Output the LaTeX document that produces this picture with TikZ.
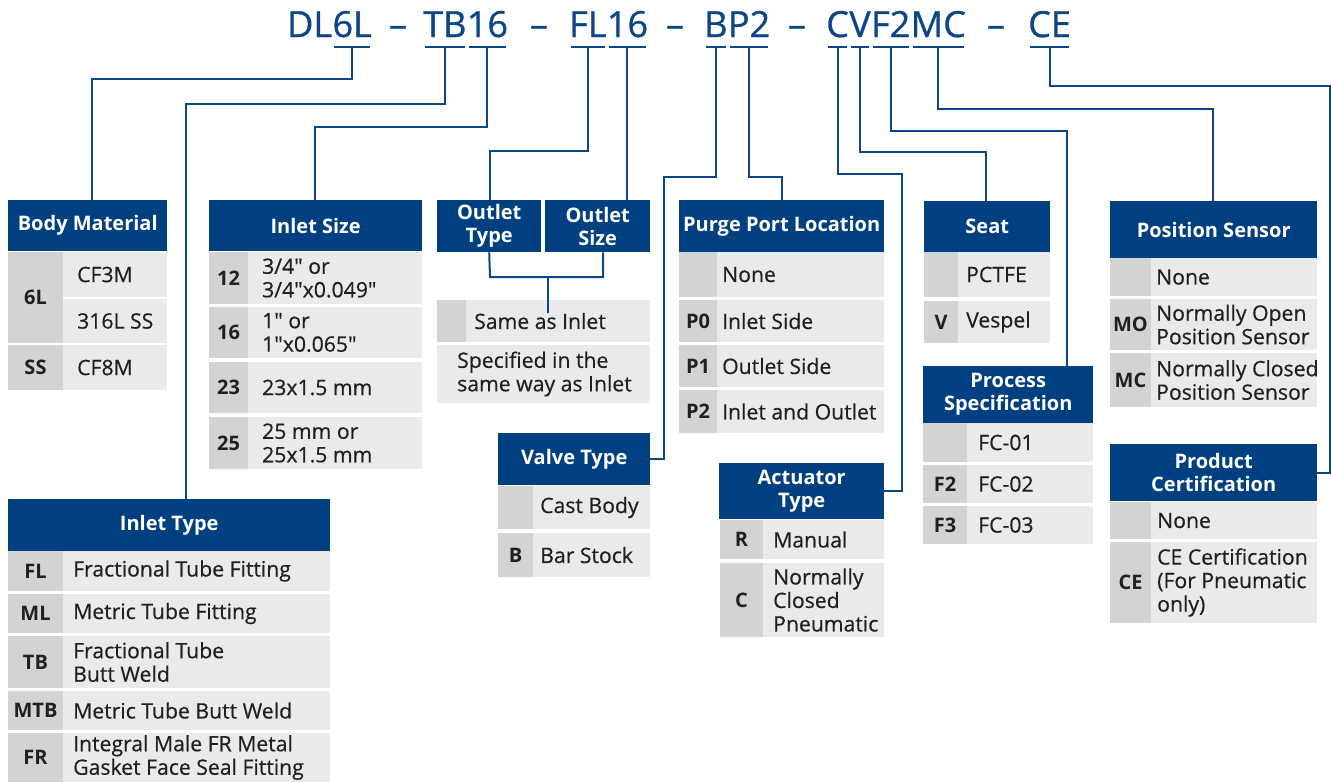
\documentclass[tikz,border=0pt]{standalone}
\usepackage{fontspec}
\setmainfont{Open Sans}
\newfontfamily\valfam{Open Sans}[FakeBold=0.5]
\newfontfamily\codefam{Open Sans}[FakeBold=0.9]
\usepackage{tikz}

\definecolor{hdblue}{RGB}{0,64,128}
\definecolor{lnblue}{RGB}{12,70,136}
\definecolor{keygray}{RGB}{209,211,212}
\definecolor{valgray}{RGB}{233,234,236}
\definecolor{txtdark}{RGB}{35,31,32}

\newcommand{\rowfont}{\valfam\fontsize{21.2}{23.5}\selectfont}
\newcommand{\keyfont}{\fontsize{20}{22}\selectfont\bfseries}
\newcommand{\headfont}{\fontsize{20}{23}\selectfont\bfseries}
\newcommand{\codefont}{\codefam\fontsize{36}{40}\selectfont}
\newcommand{\qq}{\textquotedbl}

% one option row: name, left, split, right, top, bottom, inset, key, text
\newcommand{\optrow}[9]{%
  \fill[keygray] (#2,#5) rectangle (#3,#6);
  \fill[valgray] (#3,#5) rectangle (#4,#6);
  \node[keytext] (#1k) at ({(#2+#3)/2},{(#5+#6)/2}) {#8};
  \node[valtext] (#1) at ({#3+#7},{(#5+#6)/2}) {#9};}

\tikzset{
  head/.style={fill=hdblue, text=white, font=\headfont, align=center,
    inner sep=0pt, anchor=north west},
  keytext/.style={text=txtdark, font=\keyfont, inner sep=0pt},
  valtext/.style={text=txtdark, font=\rowfont, align=left, inner sep=0pt, anchor=west},
  code/.style={text=lnblue, font=\codefont, inner sep=0pt, anchor=base west},
  uline/.style={draw=lnblue, line width=2.5pt},
  link/.style={draw=lnblue, line width=2pt}
}

\begin{document}
\begin{tikzpicture}[x=1pt,y=-1pt]
    \useasboundingbox (0,0) rectangle (1332,782);

    % part number
    \node[code] (tDL) at (287,37) {DL};
    \node[code] (t6L) at (tDL.base east) {6L};
    \node[code] (tTB) at (423,37) {TB};
    \node[code] (t16a) at (tTB.base east) {16};
    \node[code] (tFL) at (569,37) {FL};
    \node[code] (t16b) at (tFL.base east) {16};
    \node[code] (tB) at (704,37) {B};
    \node[code] (tP2) at (tB.base east) {P2};
    \node[code] (tC) at (826,37) {C};
    \node[code] (tV) at (tC.base east) {V};
    \node[code] (tF2) at (tV.base east) {F2};
    \node[code] (tMC) at (tF2.base east) {MC};
    \node[code] (tCE) at (1028,37) {CE};
    \foreach \x/\n in {398/1,539/2,675/3,797/4,996/5}
      \node[code, anchor=base] (dash\n) at (\x,37) {–};
    \foreach \n in {t6L,tTB,t16a,tFL,t16b,tB,tP2,tC,tV,tF2,tMC,tCE} {
      \draw[uline] ([xshift=2pt,yshift=-10pt]\n.base west) -- ([xshift=-2pt,yshift=-10pt]\n.base east);
      \coordinate (k\n) at ([yshift=-10pt]\n.base);
    }

    % Body Material
    \node[head, minimum width=159pt, minimum height=51pt] (bm) at (8,200) {Body Material};
    \fill[keygray] (8,252) rectangle (63,343);
    \fill[valgray] (63,252) rectangle (167,297);
    \fill[valgray] (63,299) rectangle (167,343);
    \node[keytext] (bm1k) at (35.5,297.5) {6L};
    \node[valtext] (bm1) at (77,274.5) {CF3M};
    \node[valtext] (bm2) at (77,321) {316L SS};
    \optrow{bm3}{8}{63}{167}{345}{390}{14}{SS}{CF8M}

    % Inlet Size
    \node[head, minimum width=213pt, minimum height=51pt] (is) at (209,200) {Inlet Size};
    \optrow{is1}{209}{248}{422}{252}{304}{14}{12}{3/4\qq{} or\\3/4\qq x0.049\qq}
    \optrow{is2}{209}{248}{422}{307}{358}{14}{16}{1\qq{} or\\1\qq x0.065\qq}
    \optrow{is3}{209}{248}{422}{362}{413}{14}{23}{23x1.5 mm}
    \optrow{is4}{209}{248}{422}{417}{469}{14}{25}{25 mm or\\25x1.5 mm}

    % Outlet Type / Outlet Size
    \node[head, minimum width=104pt, minimum height=52pt] (ot) at (437,200) {Outlet\\Type};
    \node[head, minimum width=105pt, minimum height=52pt] (os) at (545,200) {Outlet\\Size};
    \optrow{oso1}{437}{466}{650}{300}{342}{8}{}{Same as Inlet}
    \fill[valgray] (437,345) rectangle (650,403);
    \node[valtext] (oso2) at (457,374) {Specified in the\\same way as Inlet};

    % Purge Port Location
    \node[head, minimum width=205pt, minimum height=52pt] (pp) at (679,200) {Purge Port Location};
    \optrow{pp1}{679}{717}{884}{252}{297}{5}{}{None}
    \optrow{pp2}{679}{717}{884}{300}{342}{5}{P0}{Inlet Side}
    \optrow{pp3}{679}{717}{884}{345}{387}{5}{P1}{Outlet Side}
    \optrow{pp4}{679}{717}{884}{390}{433}{5}{P2}{Inlet and Outlet}

    % Valve Type
    \node[head, minimum width=152pt, minimum height=52pt] (vt) at (498,433) {Valve Type};
    \optrow{vt1}{498}{533}{650}{486}{529}{7}{}{Cast Body}
    \optrow{vt2}{498}{533}{650}{533}{577}{7}{B}{Bar Stock}

    % Actuator Type
    \node[head, minimum width=165pt, minimum height=56pt] (at) at (719,463) {Actuator\\Type};
    \optrow{at1}{720}{763}{884}{520}{559}{10}{R}{Manual}
    \optrow{at2}{720}{763}{884}{563}{637}{10}{C}{Normally\\Closed\\Pneumatic}

    % Seat
    \node[head, minimum width=126pt, minimum height=51pt] (se) at (924,201) {Seat};
    \optrow{se1}{924}{958}{1050}{252}{297}{8}{}{PCTFE}
    \optrow{se2}{924}{958}{1050}{301}{343}{8}{V}{Vespel}

    % Process Specification
    \node[head, minimum width=170pt, minimum height=57pt] (ps) at (923,366) {Process\\Specification};
    \optrow{ps1}{923}{967}{1093}{423}{462}{11}{}{FC-01}
    \optrow{ps2}{923}{967}{1093}{465}{503}{11}{F2}{FC-02}
    \optrow{ps3}{923}{967}{1093}{506}{544}{11}{F3}{FC-03}

    % Position Sensor
    \node[head, minimum width=207pt, minimum height=57pt] (pos) at (1110,201) {Position Sensor};
    \optrow{pos1}{1110}{1151}{1317}{258}{296}{5}{}{None}
    \optrow{pos2}{1110}{1151}{1317}{299}{350}{5}{MO}{Normally Open\\Position Sensor}
    \optrow{pos3}{1110}{1151}{1317}{353}{407}{5}{MC}{Normally Closed\\Position Sensor}

    % Product Certification
    \node[head, minimum width=207pt, minimum height=57pt] (pc) at (1110,444) {Product\\Certification};
    \optrow{pc1}{1110}{1151}{1317}{502}{539}{6}{}{None}
    \optrow{pc2}{1110}{1151}{1317}{542}{623}{6}{CE}{CE Certification\\(For Pneumatic\\only)}

    % Inlet Type
    \node[head, minimum width=322pt, minimum height=52pt] (it) at (8,499) {Inlet Type};
    \optrow{it1}{8}{63}{330}{551}{591}{10}{FL}{Fractional Tube Fitting}
    \optrow{it2}{8}{63}{330}{594}{633}{10}{ML}{Metric Tube Fitting}
    \optrow{it3}{8}{63}{330}{636}{688}{10}{TB}{Fractional Tube\\Butt Weld}
    \optrow{it4}{8}{63}{330}{691}{730}{10}{MTB}{Metric Tube Butt Weld}
    \optrow{it5}{8}{63}{330}{733}{782}{10}{FR}{Integral Male FR Metal\\Gasket Face Seal Fitting}

    % links from the code to the tables
    \draw[link] (kt6L) |- (92,79) -- (92,0 |- bm.north);
    \draw[link] (ktTB) |- (186,104) -- (186,0 |- it.north);
    \draw[link] (kt16a) |- (315,127) -- (315,0 |- is.north);
    \draw[link] (ktFL) |- (490,151) -- (490,0 |- ot.north);
    \draw[link] (kt16b) -- (kt16b |- os.north);
    \draw[link] (ot.south) -- (490,277) -| (603,0 |- os.south);
    \draw[link] (548,277) -- (548,0 |- oso1.north);
    \draw[link] (ktB) |- (664,177) |- (vt.east);
    \draw[link] (ktP2) |- (782,177) -- (782,0 |- pp.north);
    \draw[link] (ktC) |- (902,174) |- (at.east);
    \draw[link] (ktV) |- (986,152) -- (986,0 |- se.north);
    \draw[link] (ktF2) |- (1067,131) -- (1067,0 |- ps.north);
    \draw[link] (ktMC) |- (1213,109) -- (1213,0 |- pos.north);
    \draw[link] (ktCE) |- (1330,86) |- (pc.east);
\end{tikzpicture}
\end{document}
